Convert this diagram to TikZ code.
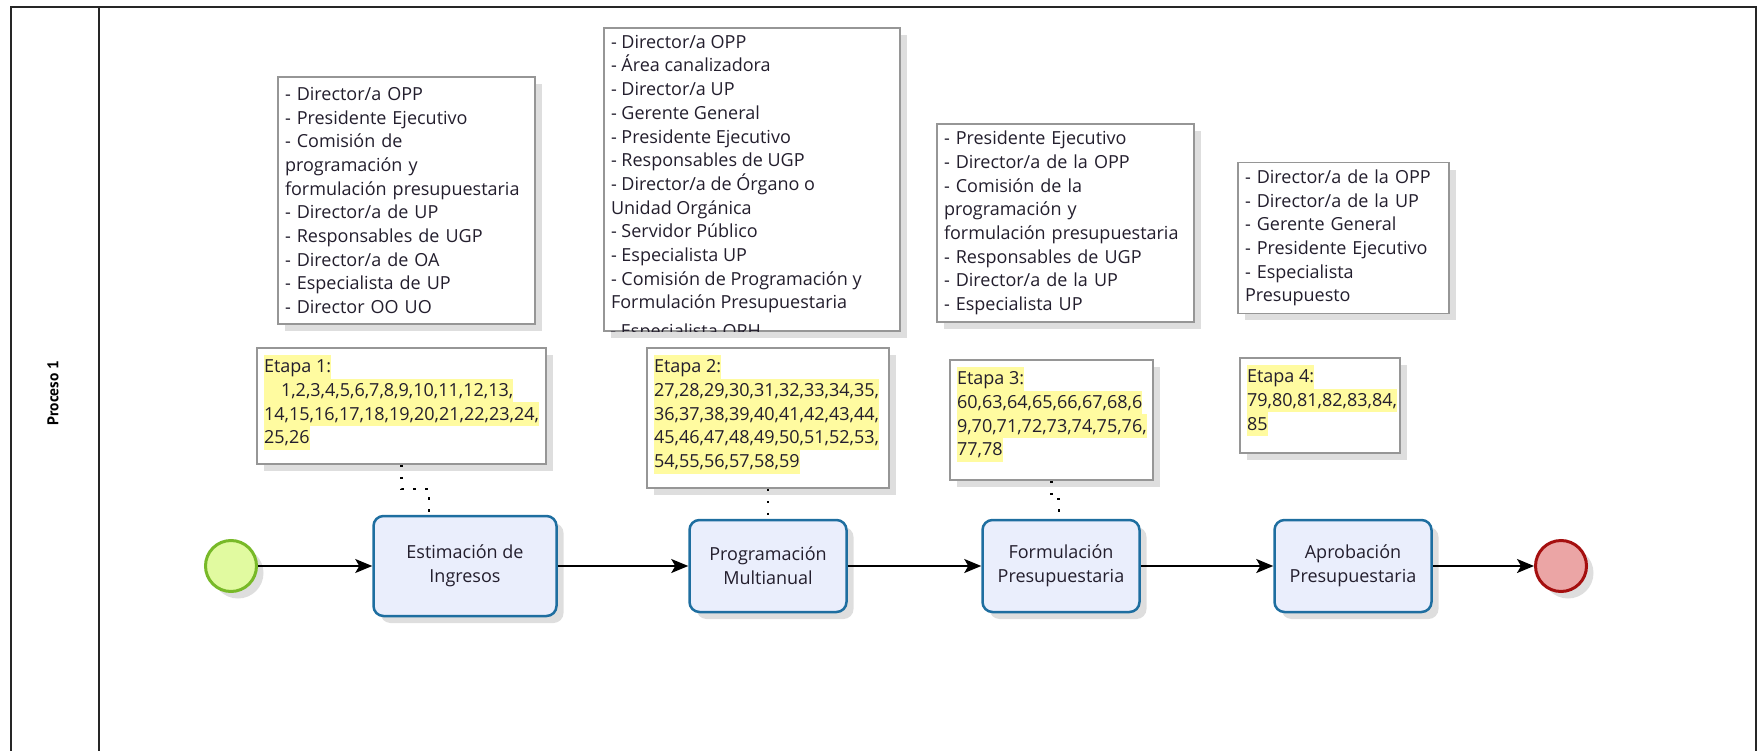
\documentclass[tikz,border=0pt]{standalone}
\usepackage{fontspec}
\setmainfont{Open Sans}
\newfontfamily\lanefont{PT Sans}
\usetikzlibrary{arrows.meta,shadows}

\definecolor{taskline}{RGB}{30,110,160}
\definecolor{taskfill}{RGB}{234,238,252}
\definecolor{startline}{RGB}{120,185,40}
\definecolor{startfill}{RGB}{225,250,160}
\definecolor{endline}{RGB}{165,15,15}
\definecolor{endfill}{RGB}{235,165,165}
\definecolor{noteline}{RGB}{150,150,150}
\definecolor{hlyellow}{RGB}{255,251,160}
\definecolor{txt}{RGB}{35,30,45}

\def\txtsize{\fontsize{18}{23.7}\selectfont}
\newcommand{\hlt}[1]{{\fboxsep=0pt\colorbox{hlyellow}{\rule[-6pt]{0pt}{23.7pt}#1}}}
\newcommand{\tbox}[3]{\parbox[t][#1][t]{#2}{\raggedright #3}}

\tikzstyle{shd}=[drop shadow={shadow xshift=7pt,shadow yshift=-7pt,opacity=.13,fill=black}]
\tikzstyle{task}=[rectangle,rounded corners=10pt,draw=taskline,fill=taskfill,line width=2.5pt,minimum width=157pt,minimum height=92pt,align=center,font=\txtsize,text=txt,shd]
\tikzstyle{ev}=[circle,line width=3pt,minimum size=51pt,inner sep=0pt,shd]
\tikzstyle{note}=[rectangle,draw=noteline,line width=1.5pt,fill=white,inner sep=7pt,align=left,font=\txtsize,text=txt,shd]
\tikzstyle{flow}=[-{Stealth[length=17pt,width=14pt,inset=4pt]},line width=1.6pt]
\tikzstyle{assoc}=[line width=2.5pt,dash pattern=on 2.5pt off 9.5pt]

\begin{document}
\begin{tikzpicture}[x=1pt,y=-1pt]
			\useasboundingbox (0,0) rectangle (1758,751);
			\draw[line width=1.8pt,black!85] (11,7) rectangle (1756,770);
			\draw[line width=1.8pt,black!85] (99,7) -- (99,770);
			\node[rotate=90,font=\lanefont\bfseries\fontsize{15.5}{17}\selectfont](lane) at (53,393){Proceso 1};

			\node[note,text width=243pt,minimum height=247pt](n1) at (406.5,200.5){- Director/a OPP\\- Presidente Ejecutivo\\- Comisión de\\programación y\\formulación presupuestaria\\- Director/a de UP\\- Responsables de UGP\\- Director/a de OA\\- Especialista de UP\\- Director OO UO};
			\node[note](n2) at (752,179.5){\tbox{289pt}{282pt}{- Director/a OPP\\- Área canalizadora\\- Director/a UP\\- Gerente General\\- Presidente Ejecutivo\\- Responsables de UGP\\- Director/a de Órgano o\\Unidad Orgánica\\- Servidor Público\\- Especialista UP\\- Comisión de Programación y\\Formulación Presupuestaria}};
			\begin{scope}
				\clip (n2.south west) rectangle (n2.north east);
				\node[anchor=base west,inner sep=0pt,font=\txtsize,text=txt](n2end) at ([shift={(7,6)}]n2.south west){- Especialista ORH};
			\end{scope}
			\node[note,text width=243pt,minimum height=198pt](n3) at (1065.5,223){- Presidente Ejecutivo\\- Director/a de la OPP\\- Comisión de la\\programación y\\formulación presupuestaria\\- Responsables de UGP\\- Director/a de la UP\\- Especialista UP};
			\node[note,text width=197pt,minimum height=148pt](n4) at (1343.5,238){- Director/a de la OPP\\- Director/a de la UP\\- Gerente General\\- Presidente Ejecutivo\\- Especialista\\Presupuesto};

			\node[note](p1) at (401.5,406){\tbox{102pt}{275pt}{\hlt{Etapa 1:}\\\hlt{\hspace{17pt}1,2,3,4,5,6,7,8,9,10,11,12,13,}\\\hlt{14,15,16,17,18,19,20,21,22,23,24,}\\\hlt{25,26}}};
			\node[note](p2) at (768,418){\tbox{126pt}{228pt}{\hlt{Etapa 2:}\\\hlt{27,28,29,30,31,32,33,34,35,}\\\hlt{36,37,38,39,40,41,42,43,44,}\\\hlt{45,46,47,48,49,50,51,52,53,}\\\hlt{54,55,56,57,58,59}}};
			\node[note](p3) at (1051.5,420){\tbox{106pt}{189pt}{\hlt{Etapa 3:}\\\hlt{60,63,64,65,66,67,68,6}\\\hlt{9,70,71,72,73,74,75,76,}\\\hlt{77,78}}};
			\node[note](p4) at (1320,405.5){\tbox{81pt}{146pt}{\hlt{Etapa 4:}\\\hlt{79,80,81,82,83,84,}\\\hlt{85}}};

			\node[ev,draw=startline,fill=startfill](s) at (231,566){};
			\node[task,minimum width=183pt,minimum height=100pt](t1) at (465,566){Estimación de\\Ingresos};
			\node[task](t2) at (768,566){Programación\\Multianual};
			\node[task](t3) at (1061,566){Formulación\\Presupuestaria};
			\node[task](t4) at (1353,566){Aprobación\\Presupuestaria};
			\node[ev,draw=endline,fill=endfill](e) at (1561,566){};

			\draw[flow](s)--(t1);
			\draw[flow](t1)--(t2);
			\draw[flow](t2)--(t3);
			\draw[flow](t3)--(t4);
			\draw[flow](t4)--(e);

			\coordinate(c1) at (429,489);
			\coordinate(c3) at (1059,499);
			\draw[assoc](p1.south)|-(c1)--(c1|-t1.north);
			\draw[assoc](p2)--(t2);
			\draw[assoc](p3.south)|-(c3)--(c3|-t3.north);
		\end{tikzpicture}
\end{document}
